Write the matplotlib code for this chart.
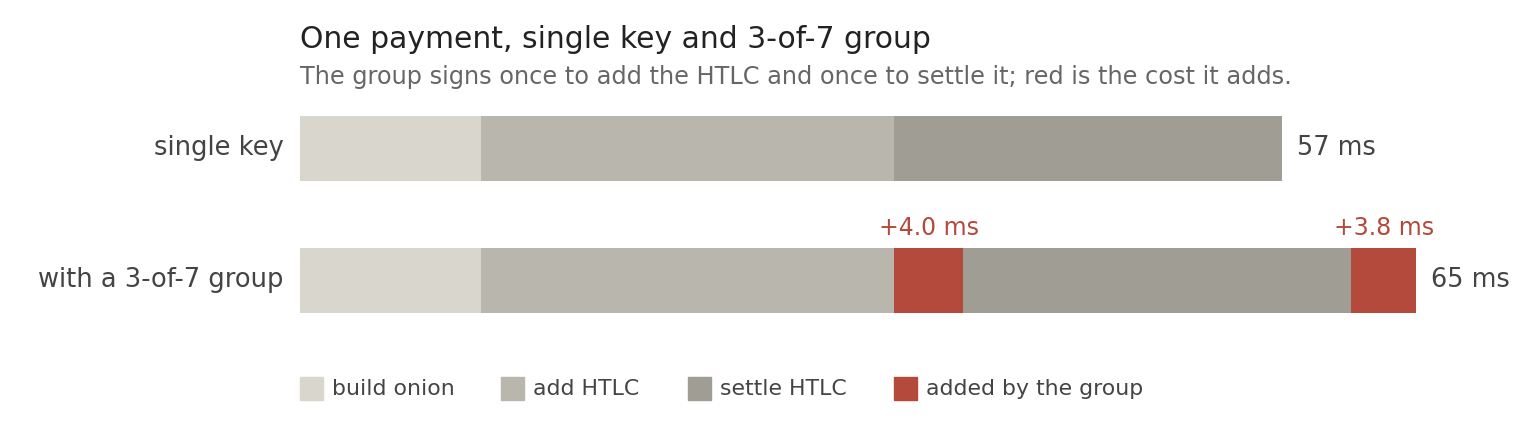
import matplotlib.pyplot as plt
from matplotlib.patches import Rectangle

plt.rcParams["font.family"] = ["DejaVu Sans"]

# data (ms)
rows = ["single key", "with a 3-of-7 group"]
build_onion = [10.5, 10.5]
add_htlc = [24.0, 24.0]
settle_htlc = [22.5, 22.5]
group_add = [0.0, 4.0]      # extra cost of the group when adding the HTLC
group_settle = [0.0, 3.8]   # extra cost of the group when settling
totals = ["57 ms", "65 ms"]

legend_names = ["build onion", "add HTLC", "settle HTLC", "added by the group"]
c_build = "#d9d6ce"
c_add = "#b9b6ae"
c_settle = "#a09d95"
c_red = "#b34a3c"

W, H = 1520, 424
fig = plt.figure(figsize=(W / 100, H / 100), dpi=100)
# axes from x=300px, 17.23 px per ms
x0 = 300
ppm = 982 / 57
xmax = 70
ax = fig.add_axes([x0 / W, 1 - 346 / H, xmax * ppm / W, (346 - 82) / H])
ax.set_xlim(0, xmax)
ax.set_ylim(1.5, -0.5)
ax.axis("off")

h = 65 / 132
for i, name in enumerate(rows):
    left = 0
    ax.barh(i, build_onion[i], left=left, height=h, color=c_build)
    left += build_onion[i]
    ax.barh(i, add_htlc[i], left=left, height=h, color=c_add)
    left += add_htlc[i]
    if group_add[i] > 0:
        ax.barh(i, group_add[i], left=left, height=h, color=c_red)
        ax.text(left + group_add[i] / 2, i - h / 2 - 0.06, f"+{group_add[i]:.1f} ms",
                ha="center", va="bottom", fontsize=17, color=c_red)
        left += group_add[i]
    ax.barh(i, settle_htlc[i], left=left, height=h, color=c_settle)
    left += settle_htlc[i]
    if group_settle[i] > 0:
        ax.barh(i, group_settle[i], left=left, height=h, color=c_red)
        ax.text(left + group_settle[i] / 2, i - h / 2 - 0.06, f"+{group_settle[i]:.1f} ms",
                ha="center", va="bottom", fontsize=17, color=c_red)
        left += group_settle[i]
    ax.text(left + 0.85, i, totals[i], ha="left", va="center", fontsize=18.4, color="#444444")
    ax.text(-0.95, i, name, ha="right", va="center", fontsize=18.5, color="#444444")

fig.text(x0 / W, 1 - 39 / H, "One payment, single key and 3-of-7 group",
         ha="left", va="center", fontsize=21.5, color="#222222")
fig.text(x0 / W, 1 - 77 / H,
         "The group signs once to add the HTLC and once to settle it; red is the cost it adds.",
         ha="left", va="center", fontsize=17.3, color="#666666")

# legend drawn by hand
leg_x = [300, 501, 688, 894]
leg_c = [c_build, c_add, c_settle, c_red]
for lx, lc, ln in zip(leg_x, leg_c, legend_names):
    fig.patches.append(Rectangle((lx / W, 1 - 400 / H), 23 / W, 23 / H,
                                 transform=fig.transFigure, color=lc))
    fig.text((lx + 32) / W, 1 - 389 / H, ln, ha="left", va="center",
             fontsize=15.8, color="#444444")

fig.savefig("out.png", dpi=100)
